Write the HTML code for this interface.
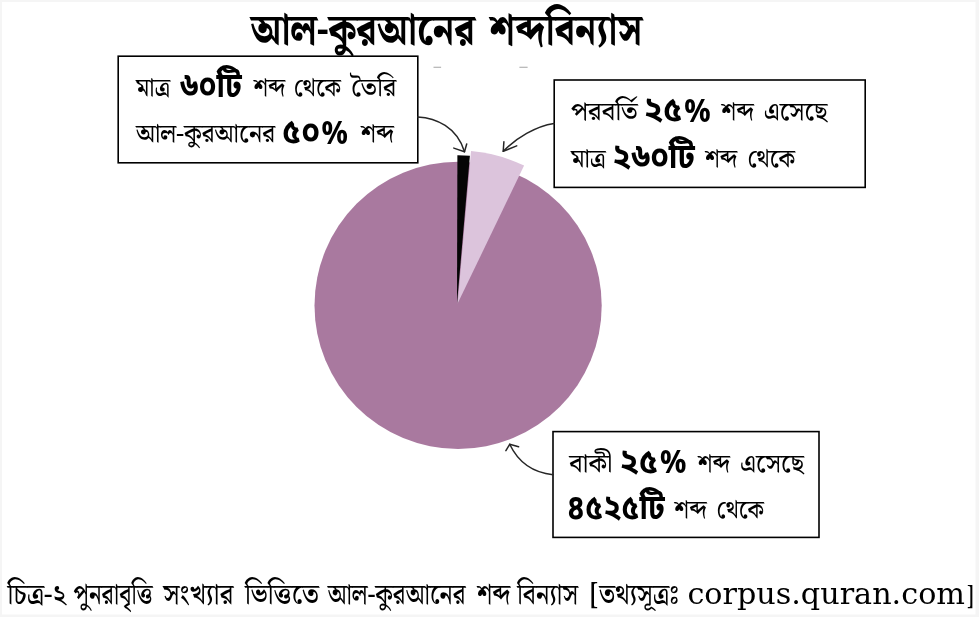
<!DOCTYPE html>
<html lang="bn">
<head>
<meta charset="utf-8">
<title>আল-কুরআনের শব্দবিন্যাস</title>
<style>
html,body{margin:0;padding:0;background:#fff;}
body{width:979px;height:617px;overflow:hidden;position:relative;}
svg{position:absolute;left:0;top:0;display:block;}
.r{font-family:"Noto Serif Bengali","Tiro Bangla","Lohit Bengali","FreeSerif","Liberation Serif",serif;font-weight:550;fill:#000;}
.b{font-family:"Noto Sans Bengali","Hind Siliguri","Noto Serif Bengali","FreeSans","Liberation Sans",sans-serif;font-weight:700;fill:#000;}
.t{font-family:"Noto Serif Bengali","Tiro Bangla","Lohit Bengali","FreeSerif","Liberation Serif",serif;font-weight:800;fill:#000;}
.l{font-family:"DejaVu Serif","Liberation Serif",serif;font-weight:400;fill:#000;}
</style>
</head>
<body>
<svg width="979" height="617" viewBox="0 0 979 617">
<!-- faint frame -->
<rect x="0" y="0" width="979" height="617" fill="#f5f5f5"/>
<rect x="2" y="2" width="973.5" height="612.5" fill="#ffffff"/>

<!-- pie -->
<circle cx="458.1" cy="305.4" r="143.6" fill="#a9799f"/>
<path d="M457.6,303.6 L471.0,151.0 A153.2,153.2 0 0 1 524.1,165.6 Z" fill="#dcc4dc"/>
<path d="M457.0,303.6 L457.4,155.2 A148.4,148.4 0 0 1 469.9,155.7 Z" fill="#050505"/>

<!-- boxes -->
<rect x="118.2" y="56.2" width="299.6" height="106.6" fill="#fff" stroke="#000" stroke-width="1.6"/>
<rect x="554.2" y="80.0" width="311" height="107.4" fill="#fff" stroke="#000" stroke-width="1.6"/>
<rect x="553.0" y="431.6" width="266" height="105.8" fill="#fff" stroke="#000" stroke-width="1.6"/>

<!-- arrows -->
<g fill="none" stroke="#262626" stroke-width="1.5" stroke-linecap="round" stroke-linejoin="round">
<path d="M417.7,117 C436,118 457,127 464.5,151.8"/>
<path d="M453.8,148.1 L464.5,151.8 L466.7,144"/>
<path d="M554,123.4 C536,126 516,138 503.2,151.3"/>
<path d="M503.9,141.7 L503.2,151.3 L516.7,145.9"/>
<path d="M553,474.7 C541,473.5 521,468 509.7,444.3"/>
<path d="M505.9,450.7 L509.7,444.3 L518.6,446.8"/>
</g>

<!-- faint marks -->
<rect x="433.5" y="66.7" width="7.6" height="1.2" fill="#b4b4b4"/>
<rect x="519.4" y="66.7" width="8.2" height="1.2" fill="#b4b4b4"/>

<!-- texts -->
<g><text class="r" font-size="26" x="135.9" y="96.0" textLength="34.3" lengthAdjust="spacingAndGlyphs">মাত্র</text>
<text class="b" font-size="34" x="179.9" y="97.0" textLength="61.8" lengthAdjust="spacingAndGlyphs">৬০টি</text>
<text class="r" font-size="26" x="253.7" y="96.0" textLength="31.5" lengthAdjust="spacingAndGlyphs">শব্দ</text>
<text class="r" font-size="26" x="293.8" y="96.0" textLength="47.2" lengthAdjust="spacingAndGlyphs">থেকে</text>
<text class="r" font-size="26" x="351.0" y="96.0" textLength="45.2" lengthAdjust="spacingAndGlyphs">তৈরি</text></g>
<g><text class="r" font-size="26" x="135.9" y="142.2" textLength="139.3" lengthAdjust="spacingAndGlyphs">আল-কুরআনের</text>
<text class="b" font-size="34" x="281.9" y="143.2" textLength="38.0" lengthAdjust="spacingAndGlyphs">৫০</text>
<text class="b" font-size="32" x="321.6" y="143.7" textLength="26.4" lengthAdjust="spacingAndGlyphs">%</text>
<text class="r" font-size="26" x="361.0" y="142.2" textLength="32.9" lengthAdjust="spacingAndGlyphs">শব্দ</text></g>
<g><text class="r" font-size="26" x="570.9" y="120.4" textLength="66.9" lengthAdjust="spacingAndGlyphs">পরবর্তি</text>
<text class="b" font-size="34" x="643.7" y="121.4" textLength="38.8" lengthAdjust="spacingAndGlyphs">২৫</text>
<text class="b" font-size="32" x="684.3" y="121.9" textLength="26.4" lengthAdjust="spacingAndGlyphs">%</text>
<text class="r" font-size="26" x="721.6" y="120.4" textLength="32.3" lengthAdjust="spacingAndGlyphs">শব্দ</text>
<text class="r" font-size="26" x="763.7" y="120.4" textLength="63.7" lengthAdjust="spacingAndGlyphs">এসেছে</text></g>
<g><text class="r" font-size="26" x="570.9" y="166.6" textLength="34.9" lengthAdjust="spacingAndGlyphs">মাত্র</text>
<text class="b" font-size="34" x="612.3" y="167.6" textLength="82.6" lengthAdjust="spacingAndGlyphs">২৬০টি</text>
<text class="r" font-size="26" x="705.3" y="166.6" textLength="32.0" lengthAdjust="spacingAndGlyphs">শব্দ</text>
<text class="r" font-size="26" x="747.4" y="166.6" textLength="47.7" lengthAdjust="spacingAndGlyphs">থেকে</text></g>
<g><text class="r" font-size="26" x="569.3" y="471.5" textLength="42.9" lengthAdjust="spacingAndGlyphs">বাকী</text>
<text class="b" font-size="34" x="619.4" y="472.5" textLength="38.8" lengthAdjust="spacingAndGlyphs">২৫</text>
<text class="b" font-size="32" x="660.0" y="473.0" textLength="26.4" lengthAdjust="spacingAndGlyphs">%</text>
<text class="r" font-size="26" x="698.0" y="471.5" textLength="32.0" lengthAdjust="spacingAndGlyphs">শব্দ</text>
<text class="r" font-size="26" x="740.0" y="471.5" textLength="63.9" lengthAdjust="spacingAndGlyphs">এসেছে</text></g>
<g><text class="b" font-size="34" x="566.7" y="518.7" textLength="98.1" lengthAdjust="spacingAndGlyphs">৪৫২৫টি</text>
<text class="r" font-size="26" x="674.6" y="517.7" textLength="32.0" lengthAdjust="spacingAndGlyphs">শব্দ</text>
<text class="r" font-size="26" x="716.6" y="517.7" textLength="47.2" lengthAdjust="spacingAndGlyphs">থেকে</text></g>
<g><text class="r" font-size="29" x="7.6" y="604.0" textLength="58.4" lengthAdjust="spacingAndGlyphs">চিত্র-২</text>
<text class="r" font-size="29" x="73.6" y="604.0" textLength="79.2" lengthAdjust="spacingAndGlyphs">পুনরাবৃত্তি</text>
<text class="r" font-size="29" x="163.2" y="604.0" textLength="70.2" lengthAdjust="spacingAndGlyphs">সংখ্যার</text>
<text class="r" font-size="29" x="244.9" y="604.0" textLength="74.0" lengthAdjust="spacingAndGlyphs">ভিত্তিতে</text>
<text class="r" font-size="29" x="327.8" y="604.0" textLength="137.8" lengthAdjust="spacingAndGlyphs">আল-কুরআনের</text>
<text class="r" font-size="29" x="477.2" y="604.0" textLength="33.0" lengthAdjust="spacingAndGlyphs">শব্দ</text>
<text class="r" font-size="29" x="517.2" y="604.0" textLength="60.9" lengthAdjust="spacingAndGlyphs">বিন্যাস</text>
<text class="r" font-size="29" x="589.8" y="604.0" textLength="89.3" lengthAdjust="spacingAndGlyphs">[তথ্যসূত্রঃ</text></g>
<text class="l" font-size="29.6" x="687.4" y="604.0" textLength="277.6" lengthAdjust="spacingAndGlyphs">corpus.quran.com</text>
<text class="r" font-size="25" x="965.4" y="603.6" textLength="8.2" lengthAdjust="spacingAndGlyphs">]</text>
<text class="t" font-size="43.5" x="250.7" y="44.3" textLength="224.4" lengthAdjust="spacingAndGlyphs">আল-কুরআনের</text>
<text class="t" font-size="43.5" x="490.1" y="44.3" textLength="152.3" lengthAdjust="spacingAndGlyphs">শব্দবিন্যাস</text>
</svg>
</body>
</html>
